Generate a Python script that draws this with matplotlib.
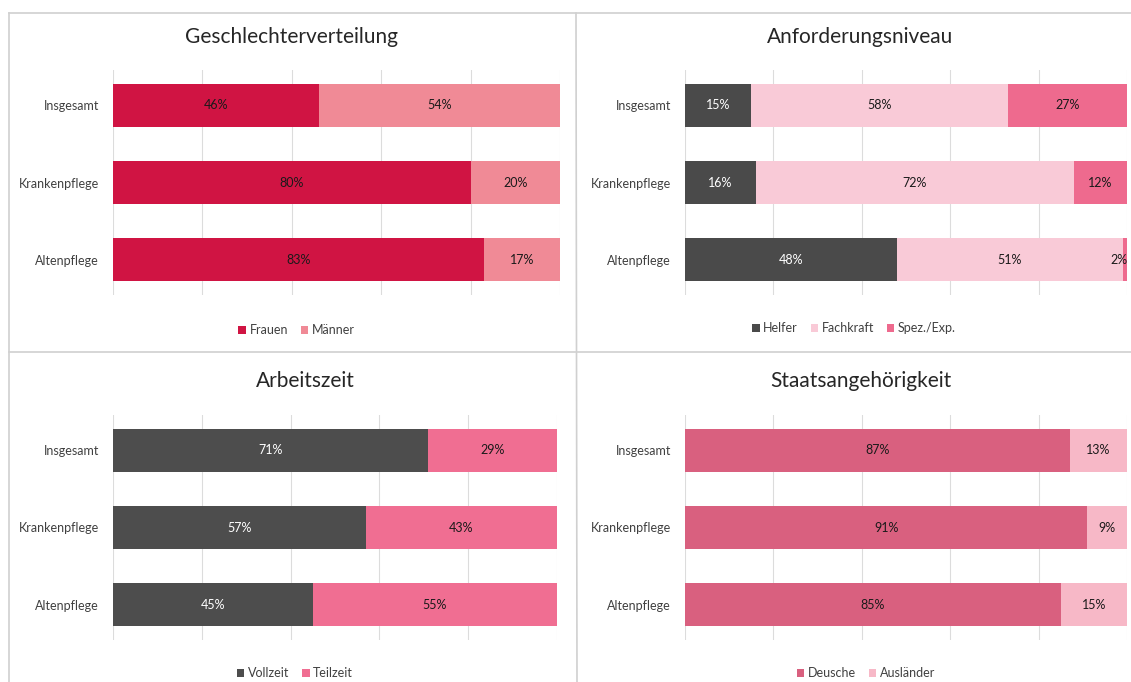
import matplotlib.pyplot as plt
from matplotlib.lines import Line2D

plt.rcParams['font.family'] = ['Lato', 'DejaVu Sans']

categories = ['Insgesamt', 'Krankenpflege', 'Altenpflege']

# Geschlechterverteilung
frauen = [46, 80, 83]
maenner = [54, 20, 17]

# Anforderungsniveau
helfer = [15, 16, 48]
fachkraft = [58, 72, 51]
spez_exp = [27, 12, 2]

# Arbeitszeit
vollzeit = [71, 57, 45]
teilzeit = [29, 43, 55]

# Staatsangehoerigkeit
deutsche = [87, 91, 85]
auslaender = [13, 9, 15]

W, H = 1131, 682
fig = plt.figure(figsize=(W / 100, H / 100), dpi=100)


def px_axes(x0, y0, x1, y1):
    # pixel box (top-left origin) -> figure axes
    return fig.add_axes([x0 / W, 1 - y1 / H, (x1 - x0) / W, (y1 - y0) / H])


def panel(box, title, title_xy, series, legend_y, legend_dx=0):
    ax = px_axes(*box)
    ypos = range(len(categories))
    left = [0] * len(categories)
    handles = []
    for vals, name, color, tcolor in series:
        bars = ax.barh(ypos, vals, left=left, height=0.56, color=color,
                       label=name, zorder=2)
        for i, v in enumerate(vals):
            x, ha = left[i] + v / 2, 'center'
            if v < 4:
                # tiny segment at the right edge: keep label inside the figure
                x, ha = min(left[i] + v, 100) + 0.2, 'right'
            ax.text(x, i, f'{v}%', ha=ha, va='center',
                    fontsize=9, color=tcolor, zorder=3, clip_on=False)
        left = [l + v for l, v in zip(left, vals)]
        handles.append(bars)
    ax.set_xlim(0, 100)
    ax.set_ylim(2.46, -0.46)
    ax.set_yticks(list(ypos))
    ax.set_yticklabels(categories, fontsize=9, color='#404040')
    ax.set_xticks([0, 20, 40, 60, 80, 100])
    ax.set_xticklabels([])
    ax.tick_params(length=0, pad=10)
    ax.grid(axis='x', color='#dcdcdc', linewidth=0.8, zorder=0)
    for s in ax.spines.values():
        s.set_visible(False)
    fig.text(title_xy[0] / W, 1 - title_xy[1] / H, title, ha='center',
             va='center', fontsize=15, color='#262626')
    fig.legend(handles=handles, loc='center',
               bbox_to_anchor=(((box[0] + box[2]) / 2 - 40 + legend_dx) / W,
                               1 - legend_y / H),
               ncol=len(handles), frameon=False, fontsize=9, handlelength=0.6,
               handleheight=0.6, handletextpad=0.3, columnspacing=1.0,
               labelcolor='#404040')
    return ax


panel((113, 70, 560, 295), 'Geschlechterverteilung', (291, 37),
      [(frauen, 'Frauen', '#D01443', '#1a1a1a'),
       (maenner, 'Männer', '#F08A96', '#1a1a1a')], 330)

panel((685, 70, 1127, 295), 'Anforderungsniveau', (860, 37),
      [(helfer, 'Helfer', '#4A4A4A', 'white'),
       (fachkraft, 'Fachkraft', '#F9CAD7', '#1a1a1a'),
       (spez_exp, 'Spez./Exp.', '#EE6A8E', '#1a1a1a')], 328, legend_dx=-12)

panel((113, 415, 557, 640), 'Arbeitszeit', (305, 381),
      [(vollzeit, 'Vollzeit', '#4D4D4D', 'white'),
       (teilzeit, 'Teilzeit', '#F06E92', '#1a1a1a')], 673)

panel((685, 415, 1127, 640), 'Staatsangehörigkeit', (861, 381),
      [(deutsche, 'Deusche', '#D9607F', '#1a1a1a'),
       (auslaender, 'Ausländer', '#F7B8C7', '#1a1a1a')], 673)

# panel frame lines
lc = '#d0d0d0'
fig.add_artist(Line2D([9 / W, 1], [1 - 13 / H] * 2, color=lc, lw=1.2))
fig.add_artist(Line2D([9 / W] * 2, [0, 1 - 13 / H], color=lc, lw=1.2))
fig.add_artist(Line2D([577 / W, 576 / W], [0, 1 - 13 / H], color=lc, lw=1.2))
fig.add_artist(Line2D([9 / W, 1], [1 - 352 / H] * 2, color=lc, lw=1.2))

fig.savefig('out.png', dpi=100)
